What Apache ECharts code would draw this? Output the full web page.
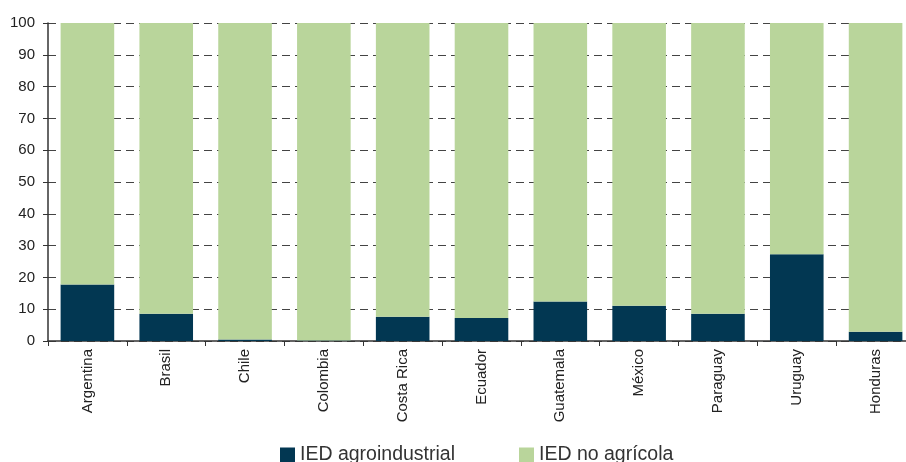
<!DOCTYPE html>
<html>
<head>
<meta charset="utf-8">
<script src="https://cdn.jsdelivr.net/npm/echarts@6/dist/echarts.min.js"></script>
<style>
  html, body { margin: 0; padding: 0; background: #fff; }
  #chart { width: 906px; height: 462px; }
</style>
</head>
<body>
<div id="chart"></div>
<script>
const countries = ['Argentina', 'Brasil', 'Chile', 'Colombia', 'Costa Rica', 'Ecuador', 'Guatemala', 'México', 'Paraguay', 'Uruguay', 'Honduras']
const agro = [17.8, 8.6, 0.5, 0.15, 7.6, 7.2, 12.4, 11.1, 8.6, 27.3, 2.9]
const noAgro = agro.map(v => +(100 - v).toFixed(2))
const yTicks = [0, 10, 20, 30, 40, 50, 60, 70, 80, 90, 100]

const chart = echarts.init(document.getElementById('chart'))

chart.setOption({
  animation: false,
  backgroundColor: '#fff',
  grid: { left: 48, top: 23, width: 867, height: 318, outerBoundsMode: 'none', containLabel: false },
  legend: {
    top: 440,
    left: 275,
    icon: 'rect',
    itemWidth: 15,
    itemHeight: 15,
    itemGap: 64,
    textStyle: { color: '#333', fontSize: 19.5, fontFamily: 'Arial, Liberation Sans' },
    data: ['IED agroindustrial', 'IED no agrícola']
  },
  xAxis: {
    type: 'category',
    data: countries,
    axisLine: { lineStyle: { color: '#333', width: 1.5 } },
    axisTick: { show: true, length: 5, lineStyle: { color: '#333' } },
    axisLabel: {
      rotate: 90,
      color: '#222',
      fontSize: 15,
      margin: 8,
      fontFamily: 'Arial, Liberation Sans'
    }
  },
  yAxis: {
    type: 'value',
    min: yTicks[0],
    max: yTicks[yTicks.length - 1],
    interval: 10,
    axisLine: { show: true, lineStyle: { color: '#333', width: 1.5 } },
    axisTick: { show: true, length: 5, lineStyle: { color: '#333' } },
    axisLabel: { color: '#222', fontSize: 15, margin: 13, fontFamily: 'Arial, Liberation Sans' },
    splitLine: { show: true, lineStyle: { color: '#444', type: [8, 5], width: 1 } }
  },
  series: [
    {
      name: 'IED agroindustrial',
      type: 'bar',
      stack: 'total',
      barCategoryGap: '32%',
      itemStyle: { color: '#023752' },
      data: agro
    },
    {
      name: 'IED no agrícola',
      type: 'bar',
      stack: 'total',
      barCategoryGap: '32%',
      itemStyle: { color: '#b9d59b' },
      data: noAgro
    }
  ]
})
</script>
</body>
</html>
